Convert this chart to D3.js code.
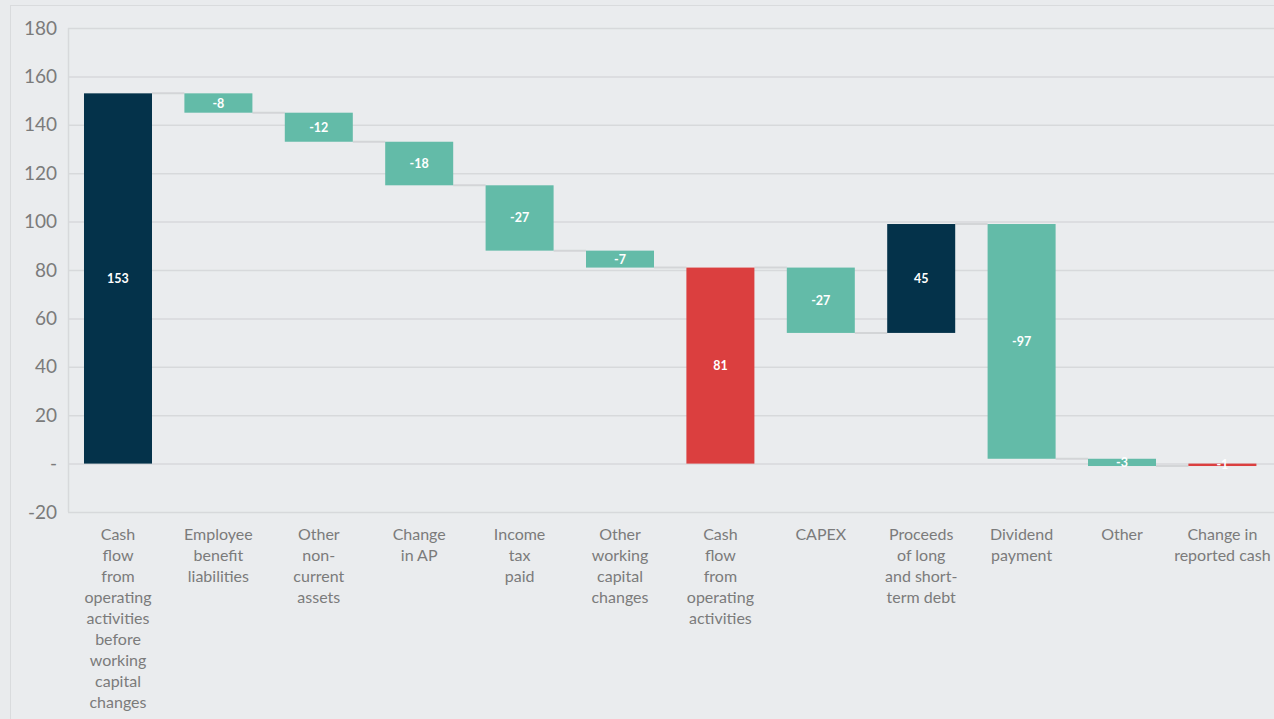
<!DOCTYPE html>
<html lang="en">
<head>
<meta charset="UTF-8">
<title>Cash flow waterfall</title>
<script src="https://d3js.org/d3.v7.min.js"></script>
<style>
  body { margin: 0; background: #e9ebed; }
  svg { display: block; }
</style>
</head>
<body>
<script>
  // categories, split into the lines shown under each bar
  const categories = [
    ["Cash", "flow", "from", "operating", "activities", "before", "working", "capital", "changes"],
    ["Employee", "benefit", "liabilities"],
    ["Other", "non-", "current", "assets"],
    ["Change", "in AP"],
    ["Income", "tax", "paid"],
    ["Other", "working", "capital", "changes"],
    ["Cash", "flow", "from", "operating", "activities"],
    ["CAPEX"],
    ["Proceeds", "of long", "and short-", "term debt"],
    ["Dividend", "payment"],
    ["Other"],
    ["Change in", "reported cash"]
  ]
  const values = [153, -8, -12, -18, -27, -7, 81, -27, 45, -97, -3, -1]
  const isTotal = [false, false, false, false, false, false, true, false, false, false, false, true]
  const yTicks = [-20, 0, 20, 40, 60, 80, 100, 120, 140, 160, 180]

  const W = 1274, H = 719
  const margin = {top: 28, left: 68, bottom: 207}

  // build running totals
  let run = 0
  const data = values.map((v, i) => {
    let y0, y1
    if (isTotal[i]) { y0 = 0; y1 = v; run = v }
    else { y0 = run; y1 = run + v; run = y1 }
    return {i, v, y0, y1, total: isTotal[i]}
  })

  const svg = d3.select("body").append("svg")
    .attr("width", W).attr("height", H)

  // panel frame
  svg.append("rect")
    .attr("x", 10.5).attr("y", 5.5)
    .attr("width", W).attr("height", H)
    .attr("fill", "#eaecee")
    .attr("stroke", "#d9dbdd")

  const x = d3.scaleBand()
    .domain(d3.range(values.length))
    .range([67.8, 1272.6])
    .paddingInner(0.3227)
    .paddingOuter(0.1613)

  const y = d3.scaleLinear()
    .domain([-20, 180])
    .range([H - margin.bottom, margin.top])

  // grid
  svg.append("g").selectAll("line")
    .data(yTicks).enter().append("line")
      .attr("x1", margin.left).attr("x2", W)
      .attr("y1", d => y(d) + 0.5).attr("y2", d => y(d) + 0.5)
      .attr("stroke", "#d7d9db").attr("stroke-width", 1.5)

  svg.append("line")
    .attr("x1", margin.left + 0.5).attr("x2", margin.left + 0.5)
    .attr("y1", y(180)).attr("y2", y(-20))
    .attr("stroke", "#d7d9db").attr("stroke-width", 1.5)

  // y axis
  const yAxis = d3.axisLeft(y)
    .tickValues(yTicks)
    .tickSize(0)
    .tickPadding(11)
    .tickFormat(d => d === 0 ? "-" : d)
  const ya = svg.append("g")
    .attr("transform", "translate(" + margin.left + ",0)")
    .call(yAxis)
  ya.select(".domain").remove()
  ya.selectAll("text")
    .attr("fill", "#7b7b7b")
    .style("font-family", "Lato, 'Open Sans', sans-serif")
    .style("font-size", "19px")

  // connectors
  svg.append("g").selectAll("line")
    .data(data.slice(0, -1)).enter().append("line")
      .attr("x1", d => x(d.i) + x.bandwidth())
      .attr("x2", d => x(d.i + 1))
      .attr("y1", d => y(d.y1)).attr("y2", d => y(d.y1))
      .attr("stroke", "#d3d5d7").attr("stroke-width", 2)

  const color = d => d.total ? "#db3f3f" : (d.v > 0 ? "#04324a" : "#63bba8")

  // bars
  svg.append("g").selectAll("rect")
    .data(data).enter().append("rect")
      .attr("x", d => x(d.i))
      .attr("width", x.bandwidth())
      .attr("y", d => y(Math.max(d.y0, d.y1)))
      .attr("height", d => Math.abs(y(d.y0) - y(d.y1)))
      .attr("fill", color)

  // value labels
  svg.append("g").selectAll("text")
    .data(data).enter().append("text")
      .attr("x", d => x(d.i) + x.bandwidth() / 2)
      .attr("y", d => y((d.y0 + d.y1) / 2))
      .attr("dy", "0.36em")
      .attr("text-anchor", "middle")
      .attr("fill", "#ffffff")
      .style("font-family", "Lato, 'Open Sans', sans-serif")
      .style("font-weight", "bold")
      .style("font-size", "12.5px")
      .text(d => d.v)

  // category labels
  const cat = svg.append("g").selectAll("text")
    .data(categories).enter().append("text")
      .attr("x", (d, i) => x(i) + x.bandwidth() / 2)
      .attr("y", 540)
      .attr("text-anchor", "middle")
      .attr("fill", "#7b7b7b")
      .style("font-family", "Lato, 'Open Sans', sans-serif")
      .style("font-size", "16px")
  cat.selectAll("tspan")
    .data(d => d).enter().append("tspan")
      .attr("x", function () { return d3.select(this.parentNode).attr("x") })
      .attr("dy", (d, j) => j === 0 ? 0 : 21)
      .text(d => d)
</script>
</body>
</html>
